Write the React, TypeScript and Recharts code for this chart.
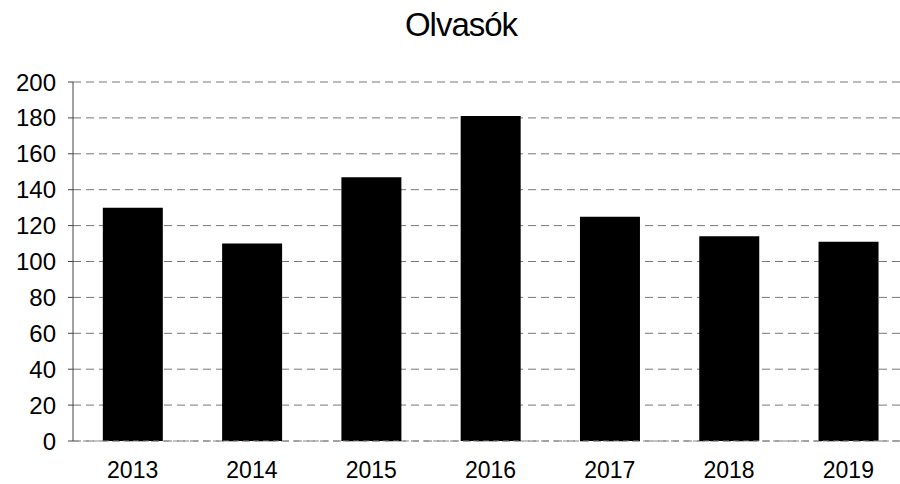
import React from 'react';
import { BarChart, Bar, XAxis, YAxis, CartesianGrid } from 'recharts';

const years = ['2013', '2014', '2015', '2016', '2017', '2018', '2019'];
const readers = [130, 110, 147, 181, 125, 114, 111];
const yTicks = [0, 20, 40, 60, 80, 100, 120, 140, 160, 180, 200];

const data = years.map((year, i) => ({ year, readers: readers[i] }));

const FONT = '"Liberation Sans", Arial, sans-serif';

const App: React.FC = () => {
  return (
    <div
      style={{
        position: 'absolute',
        left: 0,
        top: 0,
        width: 900,
        height: 484,
        overflow: 'hidden',
        background: '#fff',
        fontFamily: FONT,
      }}
    >
      <div
        style={{
          position: 'absolute',
          left: 0,
          width: 922,
          top: 6,
          textAlign: 'center',
          fontSize: 33,
          letterSpacing: -1,
          color: '#000',
        }}
      >
        Olvasók
      </div>
      <BarChart
        width={910}
        height={484}
        data={data}
        margin={{ top: 82, right: 2, bottom: 0, left: 0 }}
        barCategoryGap="25%"
      >
        <CartesianGrid vertical={false} stroke="#777" strokeDasharray="8 5" />
        <XAxis
          dataKey="year"
          height={43}
          tickLine={false}
          axisLine={{ stroke: '#888', strokeDasharray: '6 4' }}
          tickMargin={15}
          tick={{ fill: '#000', fontSize: 23, fontFamily: FONT }}
        />
        <YAxis
          width={73}
          domain={[0, 200]}
          ticks={yTicks}
          interval={0}
          axisLine={{ stroke: '#444' }}
          tickLine={{ stroke: '#444' }}
          tickSize={5}
          tickMargin={12}
          tick={{ fill: '#000', fontSize: 24, fontFamily: FONT }}
        />
        <Bar dataKey="readers" fill="#000" isAnimationActive={false} />
      </BarChart>
    </div>
  );
};

export default App;
